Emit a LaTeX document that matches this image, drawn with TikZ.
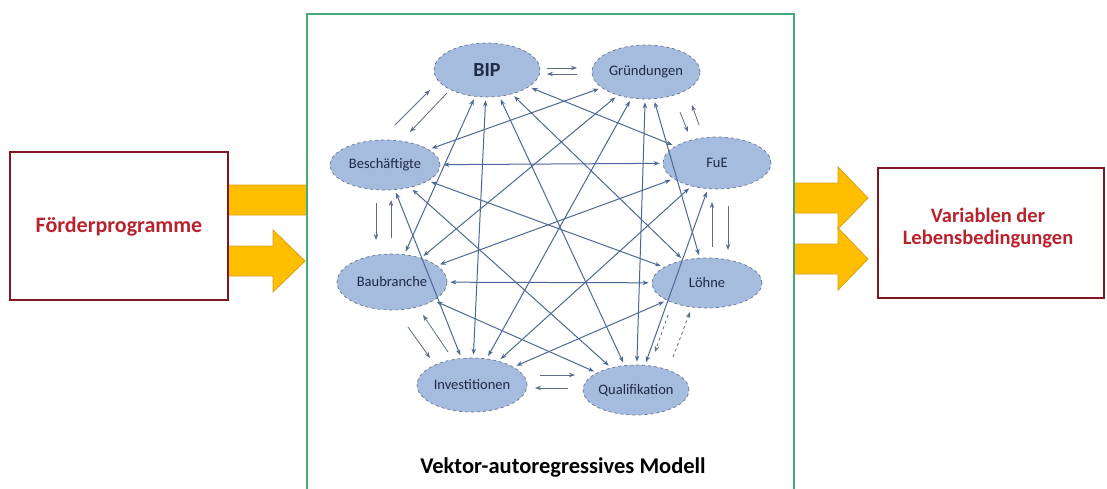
\documentclass[tikz,border=0pt]{standalone}
\usepackage{fontspec}
\setmainfont{Carlito}
\usetikzlibrary{shapes.geometric,arrows.meta}

\definecolor{boxred}{RGB}{128,22,32}
\definecolor{textred}{RGB}{185,35,45}
\definecolor{gold}{RGB}{255,190,0}
\definecolor{goldedge}{RGB}{222,156,20}
\definecolor{framegreen}{RGB}{72,170,120}
\definecolor{bubble}{RGB}{166,188,222}
\definecolor{bubbleedge}{RGB}{100,115,145}
\definecolor{ink}{RGB}{30,42,70}
\definecolor{link}{RGB}{76,104,152}
\definecolor{pairlink}{RGB}{92,108,138}

% block arrow: start x, head start x, tip x, centre y
\newcommand\goldarrow[4]{%
  \filldraw[goldarrow] (#1,#4-15) -- (#2,#4-15) -- (#2,#4-31) -- (#3,#4)
    -- (#2,#4+31) -- (#2,#4+15) -- (#1,#4+15) -- cycle;}

\begin{document}
\begin{tikzpicture}[x=1pt,y=-1pt,
  goldarrow/.style={fill=gold, draw=goldedge, line width=0.8pt, line join=miter},
  sidebox/.style={draw=boxred, line width=2.6pt, fill=white},
  sidetext/.style={text=textred, font=\fontsize{20.5}{22}\selectfont\bfseries, align=center},
  modelbox/.style={draw=framegreen, line width=2pt, fill=white},
  var/.style={ellipse, fill=bubble, draw=bubbleedge, dashed, line width=0.7pt,
    inner sep=0pt, text=ink, font=\fontsize{14.5}{15}\selectfont},
  link/.style={draw=link, line width=1pt,
    {Stealth[length=6pt,width=4.5pt]}-{Stealth[length=6pt,width=4.5pt]},
    shorten <=3pt, shorten >=3pt},
  pair/.style={draw=pairlink, line width=0.8pt, -{Stealth[length=6pt,width=4.5pt]}},
  title/.style={font=\fontsize{22.5}{24}\selectfont\bfseries, text=black}
]
\clip (0,0) rectangle (1107,489);
\fill[white] (0,0) rectangle (1107,489);

% yellow block arrows in and out of the model
\goldarrow{220}{312}{344}{200}
\goldarrow{220}{273}{305}{261}
\goldarrow{790}{838}{868}{198}
\goldarrow{790}{838}{868}{259}

% input and output boxes
\node[sidebox, minimum width=218, minimum height=148] (src) at (119,226) {};
\node[sidetext, font=\fontsize{22}{22}\selectfont\bfseries] (srctext) at (119,227) {Förderprogramme};
\node[sidebox, minimum width=226, minimum height=130] (dst) at (991,233) {};
\node[sidetext] (dsttext) at (988,228) {Variablen der\\Lebensbedingungen};

% model frame (runs past the lower edge)
\node[modelbox, anchor=north west, minimum width=487, minimum height=520, inner sep=0pt]
  (model) at (306,13) {};
\node[title] (caption) at (563,468) {Vektor-autoregressives Modell};

% variables of the VAR model
\node[var, minimum width=106, minimum height=54, font=\fontsize{20}{20}\selectfont\bfseries]
  (bip) at (487,70) {\makebox[0pt]{BIP}};
\node[var, minimum width=108, minimum height=54] (gru) at (646,72) {\makebox[0pt]{Gründungen}};
\node[var, minimum width=108, minimum height=52] (fue) at (717,163) {\makebox[0pt]{FuE}};
\node[var, minimum width=110, minimum height=50] (loe) at (707,283) {\makebox[0pt]{Löhne}};
\node[var, minimum width=106, minimum height=50] (qua) at (636,390) {\makebox[0pt]{Qualifikation}};
\node[var, minimum width=110, minimum height=54] (inv) at (472,385) {\makebox[0pt]{Investitionen}};
\node[var, minimum width=110, minimum height=56] (bau) at (392,282) {\makebox[0pt]{Baubranche}};
\node[var, minimum width=110, minimum height=50] (bes) at (385,165) {\makebox[0pt]{Beschäftigte}};

% links between non-neighbouring variables
\foreach \a/\b in {bip/fue, bip/loe, bip/qua, bip/inv, bip/bau,
                   gru/loe, gru/qua, gru/inv, gru/bau, gru/bes,
                   fue/qua, fue/inv, fue/bau, fue/bes,
                   loe/inv, loe/bau, loe/bes,
                   qua/bau, qua/bes, inv/bes}
  \draw[link] (\a) -- (\b);

% paired arrows between neighbours on the ring
\draw[pair] ([shift={(60,-2)}]bip.center) -- ([shift={(-69,-4)}]gru.center);
\draw[pair] ([shift={(-69,2)}]gru.center) -- ([shift={(60,4)}]bip.center);

\draw[pair] ([shift={(34,40)}]gru.center) -- ([shift={(-29,-31)}]fue.center);
\draw[pair] ([shift={(-18,-38)}]fue.center) -- ([shift={(46,33)}]gru.center);

\draw[pair] ([shift={(5,-36)}]loe.center) -- ([shift={(-5,39)}]fue.center);
\draw[pair] ([shift={(11,43)}]fue.center) -- ([shift={(21,-33)}]loe.center);

\draw[pair, dashed] ([shift={(-39,32)}]loe.center) -- ([shift={(19,-38)}]qua.center);
\draw[pair, dashed] ([shift={(37,-33)}]qua.center) -- ([shift={(-17,29)}]loe.center);

\draw[pair] ([shift={(68,-10)}]inv.center) -- ([shift={(-61,-15)}]qua.center);
\draw[pair] ([shift={(-68,-2)}]qua.center) -- ([shift={(63,3)}]inv.center);

\draw[pair] ([shift={(16,45)}]bau.center) -- ([shift={(-42,-27)}]inv.center);
\draw[pair] ([shift={(-24,-33)}]inv.center) -- ([shift={(31,33)}]bau.center);

\draw[pair] ([shift={(-9,38)}]bes.center) -- ([shift={(-16,-42)}]bau.center);
\draw[pair] ([shift={(-1,-44)}]bau.center) -- ([shift={(6,35)}]bes.center);

\draw[pair] ([shift={(10,-40)}]bes.center) -- ([shift={(-57,20)}]bip.center);
\draw[pair] ([shift={(-40,23)}]bip.center) -- ([shift={(25,-33)}]bes.center);
\end{tikzpicture}
\end{document}
